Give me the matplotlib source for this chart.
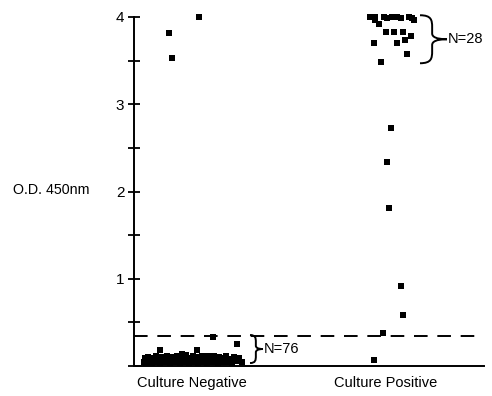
import matplotlib
matplotlib.use("Agg")
import matplotlib.pyplot as plt
from matplotlib.path import Path
from matplotlib.patches import PathPatch

plt.rcParams['font.family'] = ['Liberation Sans', 'DejaVu Sans']

categories = ["Culture Negative", "Culture Positive"]
cat_pos = [1.0, 1.97]

# Culture negative (N=76)
neg_x = [0.76, 0.765, 0.77, 0.775, 0.78, 0.79, 0.795, 0.80, 0.81, 0.815,
         0.82, 0.83, 0.835, 0.84, 0.85, 0.855, 0.86, 0.87, 0.875, 0.88,
         0.89, 0.895, 0.90, 0.91, 0.92, 0.925, 0.93, 0.94, 0.945, 0.95,
         0.96, 0.965, 0.97, 0.98, 0.985, 0.99, 1.00, 1.005, 1.01, 1.02,
         1.03, 1.035, 1.04, 1.05, 1.055, 1.06, 1.07, 1.075, 1.08, 1.09,
         1.10, 1.105, 1.11, 1.12, 1.13, 1.135, 1.14, 1.15, 1.16, 1.165,
         1.17, 1.18, 1.19, 1.20, 1.21, 1.22, 1.235, 1.25,
         0.84, 1.025, 1.225, 1.105, 0.95,
         0.885, 0.90, 1.035]
neg_y = [0.05, 0.09, 0.04, 0.07, 0.10, 0.05, 0.08, 0.04, 0.09, 0.06,
         0.11, 0.05, 0.08, 0.04, 0.10, 0.06, 0.09, 0.05, 0.12, 0.07,
         0.04, 0.10, 0.06, 0.08, 0.05, 0.11, 0.07, 0.04, 0.09, 0.06,
         0.10, 0.05, 0.13, 0.07, 0.04, 0.09, 0.06, 0.11, 0.05, 0.08,
         0.04, 0.10, 0.07, 0.12, 0.05, 0.09, 0.06, 0.04, 0.11, 0.07,
         0.05, 0.09, 0.12, 0.06, 0.04, 0.10, 0.07, 0.05, 0.09, 0.06,
         0.11, 0.05, 0.08, 0.04, 0.10, 0.06, 0.09, 0.05,
         0.18, 0.18, 0.25, 0.33, 0.14,
         3.82, 3.53, 4.0]

# Culture positive (N=28)
pos_x = [1.89, 1.915, 1.96, 1.975, 2.0, 2.025, 2.045, 2.085, 2.10,
         1.915, 2.11, 1.935, 1.97, 2.01, 2.055, 2.095, 2.065,
         1.91, 2.025, 2.075, 1.945,
         1.995, 1.975, 1.985, 2.045, 2.055, 1.955, 1.91]
pos_y = [4.0, 4.0, 4.0, 3.99, 4.0, 4.0, 3.99, 4.0, 3.99,
         3.96, 3.96, 3.92, 3.83, 3.83, 3.83, 3.78, 3.74,
         3.70, 3.70, 3.58, 3.48,
         2.73, 2.34, 1.81, 0.92, 0.58, 0.38, 0.07]

cutoff = 0.344
neg_label = "N=76"
pos_label = "N=28"
ylabel = "O.D. 450nm"

fig = plt.figure(figsize=(4.92, 3.96), dpi=100)
ax = fig.add_axes([134/492, 30/396, 350/492, 349/396])
ax.set_xlim(0.71, 2.46)
ax.set_ylim(0, 4)

ax.plot(neg_x, neg_y, 's', color='black', ms=4.2, clip_on=False, mec='black', mew=0)
ax.plot(pos_x, pos_y, 's', color='black', ms=4.2, clip_on=False, mec='black', mew=0)

ax.axhline(cutoff, color='black', lw=1.4, linestyle=(0, (7, 5)))

for s in ['top', 'right']:
    ax.spines[s].set_visible(False)
ax.spines['left'].set_linewidth(1.4)
ax.spines['bottom'].set_linewidth(1.4)

ax.set_yticks([0, 1, 2, 3, 4])
ax.set_yticklabels(['', '1', '2', '3', '4'])
ax.set_yticks([0.5, 1.5, 2.5, 3.5], minor=True)
ax.tick_params(axis='y', which='both', direction='inout', length=8, width=1.3, labelsize=11, pad=3)
ax.set_xticks(cat_pos)
ax.set_xticklabels(categories)
ax.tick_params(axis='x', length=0, labelsize=10.5, pad=7)

fig.text(13/492, 1 - 190/396, ylabel, fontsize=10.3, va='center', ha='left')


def brace(ax, x0, x1, yb, yt):
    w = x1 - x0
    H = yt - yb
    pts_norm = [(0, 1), (0.42, 1), (0.45, 0.9), (0.45, 0.75),
                (0.45, 0.62),
                (0.45, 0.55), (0.6, 0.5), (1, 0.5),
                (0.6, 0.5), (0.45, 0.45), (0.45, 0.38),
                (0.45, 0.25),
                (0.45, 0.1), (0.42, 0), (0, 0)]
    codes = [Path.MOVETO, Path.CURVE4, Path.CURVE4, Path.CURVE4,
             Path.LINETO,
             Path.CURVE4, Path.CURVE4, Path.CURVE4,
             Path.CURVE4, Path.CURVE4, Path.CURVE4,
             Path.LINETO,
             Path.CURVE4, Path.CURVE4, Path.CURVE4]
    verts = [(x0 + u * w, yb + v * H) for u, v in pts_norm]
    ax.add_patch(PathPatch(Path(verts, codes), fill=False, lw=1.4,
                           edgecolor='black', clip_on=False))
    return x1, yb + 0.5 * H


tx, ty = brace(ax, 1.29, 1.355, 0.034, 0.355)
ax.text(tx + 0.005, ty, neg_label, fontsize=10.5, va='center', ha='left')
tx, ty = brace(ax, 2.14, 2.275, 3.47, 4.02)
ax.text(tx + 0.003, ty, pos_label, fontsize=10.5, va='center', ha='left', clip_on=False)

fig.savefig("out.png", dpi=100)
